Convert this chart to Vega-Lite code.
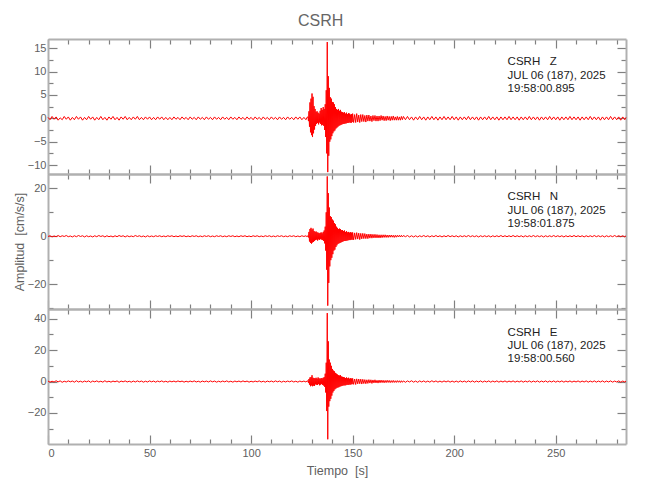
{
"$schema": "https://vega.github.io/schema/vega-lite/v6.json",
"background": "white",
"padding": {"left": 13, "top": 13, "right": 5, "bottom": 5},
"spacing": 0,
"bounds": "flush",
"title": {"text": "CSRH", "fontSize": 16, "fontWeight": "normal", "color": "#666666", "font": "Liberation Sans", "anchor": "middle", "offset": 9},
"config": {
  "view": {"stroke": null},
  "font": "Liberation Sans",
  "axis": {"grid": false, "domainColor": "#b0b0b0", "domainWidth": 2, "tickColor": "#808080", "tickWidth": 1.2, "labelColor": "#606060", "labelFont": "Liberation Sans", "labelFontSize": 11, "labelPadding": 12, "titleFont": "Liberation Sans", "titleFontSize": 12.5, "titleFontWeight": "normal", "titleColor": "#606060"}
},
"datasets": {
"w": [
{"t":0,"z":0.2,"n":-0.1,"e":0.3},{"t":1,"z":-0.3,"n":0.2,"e":-0.4},{"t":2,"z":0.4,"n":-0.3,"e":0.2},{"t":3,"z":-0.2,"n":0.1,"e":-0.3},{"t":4,"z":0.3,"n":-0.2,"e":0.5},{"t":5,"z":-0.4,"n":0.3,"e":-0.2},{"t":6,"z":0.1,"n":-0.2,"e":0.4},{"t":7,"z":-0.3,"n":0.2,"e":-0.5},{"t":8,"z":0.4,"n":-0.1,"e":0.2},{"t":9,"z":-0.2,"n":0.3,"e":-0.3},
{"t":10,"z":0.3,"n":-0.2,"e":0.4},{"t":11,"z":-0.4,"n":0.1,"e":-0.2},{"t":12,"z":0.2,"n":-0.3,"e":0.3},{"t":13,"z":-0.3,"n":0.2,"e":-0.4},{"t":14,"z":0.4,"n":-0.2,"e":0.5},{"t":15,"z":-0.2,"n":0.3,"e":-0.3},{"t":16,"z":0.3,"n":-0.1,"e":0.2},{"t":17,"z":-0.4,"n":0.2,"e":-0.4},{"t":18,"z":0.2,"n":-0.3,"e":0.3},{"t":19,"z":-0.3,"n":0.2,"e":-0.2},
{"t":20,"z":0.4,"n":-0.2,"e":0.4},{"t":21,"z":-0.2,"n":0.1,"e":-0.5},{"t":22,"z":0.3,"n":-0.3,"e":0.3},{"t":23,"z":-0.4,"n":0.2,"e":-0.2},{"t":24,"z":0.2,"n":-0.2,"e":0.4},{"t":25,"z":-0.3,"n":0.3,"e":-0.3},{"t":26,"z":0.4,"n":-0.1,"e":0.2},{"t":27,"z":-0.3,"n":0.2,"e":-0.4},{"t":28,"z":0.2,"n":-0.3,"e":0.5},{"t":29,"z":-0.4,"n":0.2,"e":-0.3},
{"t":30,"z":0.3,"n":-0.2,"e":0.2},{"t":31,"z":-0.2,"n":0.1,"e":-0.4},{"t":32,"z":0.4,"n":-0.3,"e":0.3},{"t":33,"z":-0.3,"n":0.2,"e":-0.2},{"t":34,"z":0.2,"n":-0.2,"e":0.4},{"t":35,"z":-0.4,"n":0.3,"e":-0.5},{"t":36,"z":0.3,"n":-0.1,"e":0.3},{"t":37,"z":-0.2,"n":0.2,"e":-0.2},{"t":38,"z":0.4,"n":-0.3,"e":0.4},{"t":39,"z":-0.3,"n":0.2,"e":-0.3},
{"t":40,"z":0.2,"n":-0.2,"e":0.2},{"t":41,"z":-0.3,"n":0.1,"e":-0.4},{"t":42,"z":0.3,"n":-0.2,"e":0.3},{"t":43,"z":-0.2,"n":0.3,"e":-0.3},{"t":44,"z":0.4,"n":-0.1,"e":0.4},{"t":45,"z":-0.3,"n":0.2,"e":-0.2},{"t":46,"z":0.2,"n":-0.2,"e":0.3},{"t":47,"z":-0.3,"n":0.1,"e":-0.4},{"t":48,"z":0.3,"n":-0.3,"e":0.2},{"t":49,"z":-0.2,"n":0.2,"e":-0.3},
{"t":50,"z":0.3,"n":-0.2,"e":0.4},{"t":51,"z":-0.3,"n":0.1,"e":-0.2},{"t":52,"z":0.2,"n":-0.2,"e":0.3},{"t":53,"z":-0.3,"n":0.2,"e":-0.4},{"t":54,"z":0.3,"n":-0.1,"e":0.3},{"t":55,"z":-0.2,"n":0.2,"e":-0.2},{"t":56,"z":0.3,"n":-0.2,"e":0.4},{"t":57,"z":-0.3,"n":0.1,"e":-0.3},{"t":58,"z":0.2,"n":-0.2,"e":0.2},{"t":59,"z":-0.3,"n":0.2,"e":-0.4},
{"t":60,"z":0.2,"n":-0.1,"e":0.3},{"t":61,"z":-0.3,"n":0.2,"e":-0.2},{"t":62,"z":0.3,"n":-0.2,"e":0.3},{"t":63,"z":-0.2,"n":0.1,"e":-0.3},{"t":64,"z":0.2,"n":-0.2,"e":0.4},{"t":65,"z":-0.3,"n":0.2,"e":-0.2},{"t":66,"z":0.3,"n":-0.1,"e":0.3},{"t":67,"z":-0.2,"n":0.2,"e":-0.4},{"t":68,"z":0.2,"n":-0.2,"e":0.2},{"t":69,"z":-0.3,"n":0.1,"e":-0.3},
{"t":70,"z":0.3,"n":-0.2,"e":0.3},{"t":71,"z":-0.2,"n":0.2,"e":-0.2},{"t":72,"z":0.2,"n":-0.1,"e":0.4},{"t":73,"z":-0.3,"n":0.2,"e":-0.3},{"t":74,"z":0.3,"n":-0.2,"e":0.2},{"t":75,"z":-0.2,"n":0.1,"e":-0.4},{"t":76,"z":0.2,"n":-0.2,"e":0.3},{"t":77,"z":-0.3,"n":0.2,"e":-0.2},{"t":78,"z":0.3,"n":-0.1,"e":0.3},{"t":79,"z":-0.2,"n":0.2,"e":-0.3},
{"t":80,"z":0.2,"n":-0.2,"e":0.4},{"t":81,"z":-0.3,"n":0.1,"e":-0.2},{"t":82,"z":0.3,"n":-0.2,"e":0.3},{"t":83,"z":-0.2,"n":0.2,"e":-0.4},{"t":84,"z":0.2,"n":-0.1,"e":0.2},{"t":85,"z":-0.3,"n":0.2,"e":-0.3},{"t":86,"z":0.3,"n":-0.2,"e":0.3},{"t":87,"z":-0.2,"n":0.1,"e":-0.2},{"t":88,"z":0.2,"n":-0.2,"e":0.4},{"t":89,"z":-0.3,"n":0.2,"e":-0.3},
{"t":90,"z":0.3,"n":-0.1,"e":0.2},{"t":91,"z":-0.2,"n":0.2,"e":-0.4},{"t":92,"z":0.2,"n":-0.2,"e":0.3},{"t":93,"z":-0.3,"n":0.1,"e":-0.2},{"t":94,"z":0.3,"n":-0.2,"e":0.3},{"t":95,"z":-0.2,"n":0.2,"e":-0.3},{"t":96,"z":0.2,"n":-0.1,"e":0.4},{"t":97,"z":-0.3,"n":0.2,"e":-0.2},{"t":98,"z":0.3,"n":-0.2,"e":0.3},{"t":99,"z":-0.2,"n":0.1,"e":-0.4},
{"t":100,"z":0.2,"n":-0.2,"e":0.2},{"t":101,"z":-0.3,"n":0.2,"e":-0.3},{"t":102,"z":0.3,"n":-0.1,"e":0.3},{"t":103,"z":-0.2,"n":0.2,"e":-0.2},{"t":104,"z":0.2,"n":-0.2,"e":0.4},{"t":105,"z":-0.3,"n":0.1,"e":-0.3},{"t":106,"z":0.3,"n":-0.2,"e":0.2},{"t":107,"z":-0.2,"n":0.2,"e":-0.4},{"t":108,"z":0.2,"n":-0.1,"e":0.3},{"t":109,"z":-0.3,"n":0.2,"e":-0.2},
{"t":110,"z":0.3,"n":-0.2,"e":0.3},{"t":111,"z":-0.2,"n":0.1,"e":-0.3},{"t":112,"z":0.2,"n":-0.2,"e":0.4},{"t":113,"z":-0.3,"n":0.2,"e":-0.2},{"t":114,"z":0.3,"n":-0.1,"e":0.3},{"t":115,"z":-0.2,"n":0.2,"e":-0.4},{"t":116,"z":0.2,"n":-0.2,"e":0.2},{"t":117,"z":-0.3,"n":0.1,"e":-0.3},{"t":118,"z":0.3,"n":-0.2,"e":0.3},{"t":119,"z":-0.2,"n":0.2,"e":-0.2},
{"t":120,"z":0.2,"n":-0.1,"e":0.4},{"t":121,"z":-0.3,"n":0.2,"e":-0.3},{"t":122,"z":0.3,"n":-0.2,"e":0.2},{"t":123,"z":-0.2,"n":0.1,"e":-0.4},{"t":124,"z":0.3,"n":-0.2,"e":0.3},{"t":125,"z":-0.3,"n":0.2,"e":-0.2},{"t":126,"z":0.2,"n":-0.1,"e":0.3},{"t":127,"z":-0.3,"n":0.2,"e":-0.3},
{"t":127.5,"z":0.2,"n":-0.2,"e":0.3},
{"t":128,"z":0.3,"n":0.2,"e":0.4},{"t":128.25,"z":-0.6,"n":-0.5,"e":-0.8},{"t":128.5,"z":1.5,"n":1.8,"e":1.6},{"t":128.75,"z":-1.8,"n":-2.2,"e":-2.0},
{"t":129,"z":3.4,"n":3.0,"e":2.6},{"t":129.25,"z":-3.0,"n":-2.8,"e":-3.0},{"t":129.5,"z":4.2,"n":3.5,"e":2.8},{"t":129.75,"z":-3.6,"n":-3.1,"e":-2.5},
{"t":130,"z":5.3,"n":2.8,"e":4.0},{"t":130.25,"z":-4.0,"n":-2.6,"e":-3.0},{"t":130.5,"z":4.6,"n":3.2,"e":2.4},{"t":130.75,"z":-3.2,"n":-2.4,"e":-2.6},
{"t":131,"z":2.6,"n":2.2,"e":2.2},{"t":131.25,"z":-2.4,"n":-2.0,"e":-2.8},{"t":131.5,"z":2.0,"n":1.8,"e":2.0},{"t":131.75,"z":-1.6,"n":-1.6,"e":-1.8},
{"t":132,"z":1.4,"n":2.0,"e":2.4},{"t":132.25,"z":-1.2,"n":-1.4,"e":-2.0},{"t":132.5,"z":1.5,"n":1.6,"e":1.8},{"t":132.75,"z":-1.0,"n":-1.8,"e":-2.2},
{"t":133,"z":1.2,"n":1.5,"e":2.6},{"t":133.25,"z":-1.3,"n":-1.3,"e":-1.6},{"t":133.5,"z":1.0,"n":1.2,"e":2.0},{"t":133.75,"z":-0.9,"n":-1.5,"e":-2.4},
{"t":134,"z":1.6,"n":1.4,"e":1.8},{"t":134.25,"z":-1.2,"n":-1.2,"e":-2.0},{"t":134.5,"z":2.2,"n":1.6,"e":2.2},{"t":134.75,"z":-1.5,"n":-1.4,"e":-1.6},
{"t":135,"z":1.8,"n":1.2,"e":2.0},{"t":135.25,"z":-1.4,"n":-1.6,"e":-2.2},{"t":135.5,"z":2.4,"n":1.8,"e":2.4},{"t":135.75,"z":-1.6,"n":-2.0,"e":-2.6},
{"t":136,"z":2.0,"n":2.4,"e":2.8},{"t":136.25,"z":-2.5,"n":-3.0,"e":-3.4},{"t":136.5,"z":3.0,"n":4.0,"e":5.0},{"t":136.75,"z":-4.0,"n":-6.0,"e":-7.0},
{"t":137,"z":6.0,"n":10.0,"e":12.0},{"t":137.25,"z":-7.5,"n":-14.0,"e":-18.8},{"t":137.5,"z":16.3,"n":25.0,"e":43.6},{"t":137.75,"z":-11.5,"n":-29.0,"e":-36.8},
{"t":138,"z":9.0,"n":18.0,"e":25.6},{"t":138.25,"z":-8.0,"n":-19.5,"e":-16.0},{"t":138.5,"z":6.5,"n":12.0,"e":14.0},{"t":138.75,"z":-5.0,"n":-12.6,"e":-12.5},
{"t":139,"z":4.5,"n":8.4,"e":12.0},{"t":139.25,"z":-4.5,"n":-10.0,"e":-11.0},{"t":139.5,"z":4.2,"n":8.0,"e":10.0},{"t":139.75,"z":-3.8,"n":-9.0,"e":-9.0},
{"t":140,"z":3.5,"n":7.0,"e":8.0},{"t":140.25,"z":-3.2,"n":-7.5,"e":-7.0},{"t":140.5,"z":3.4,"n":6.5,"e":7.0},{"t":140.75,"z":-2.8,"n":-6.0,"e":-6.0},
{"t":141,"z":3.0,"n":5.5,"e":6.5},{"t":141.25,"z":-2.6,"n":-5.6,"e":-5.0},{"t":141.5,"z":2.4,"n":5.0,"e":5.5},{"t":141.75,"z":-2.2,"n":-4.5,"e":-4.5},
{"t":142,"z":2.0,"n":4.0,"e":5.0},{"t":142.25,"z":-2.0,"n":-3.8,"e":-4.0},{"t":142.5,"z":1.8,"n":3.5,"e":4.5},{"t":142.75,"z":-1.8,"n":-3.2,"e":-3.8},
{"t":143,"z":2.0,"n":3.0,"e":4.0},{"t":143.25,"z":-1.6,"n":-3.0,"e":-3.6},{"t":143.5,"z":1.6,"n":3.2,"e":3.8},{"t":143.75,"z":-1.5,"n":-2.8,"e":-3.2},
{"t":144,"z":1.8,"n":3.0,"e":4.0},{"t":144.25,"z":-1.4,"n":-2.6,"e":-3.0},{"t":144.5,"z":1.4,"n":2.5,"e":3.2},{"t":144.75,"z":-1.3,"n":-2.4,"e":-2.8},
{"t":145,"z":1.3,"n":2.6,"e":3.0},{"t":145.25,"z":-1.2,"n":-2.2,"e":-2.6},{"t":145.5,"z":1.2,"n":2.2,"e":2.8},{"t":145.75,"z":-1.2,"n":-2.0,"e":-2.4},
{"t":146,"z":1.3,"n":2.4,"e":2.6},{"t":146.25,"z":-1.1,"n":-2.0,"e":-2.5},{"t":146.5,"z":1.0,"n":1.8,"e":2.2},{"t":146.75,"z":-1.1,"n":-1.9,"e":-2.3},
{"t":147,"z":1.2,"n":2.1,"e":2.6},{"t":147.25,"z":-1.0,"n":-1.8,"e":-2.0},{"t":147.5,"z":0.9,"n":1.6,"e":2.0},{"t":147.75,"z":-1.0,"n":-1.7,"e":-2.2},
{"t":148,"z":1.1,"n":1.8,"e":2.4},{"t":148.25,"z":-0.9,"n":-1.6,"e":-1.9},{"t":148.5,"z":1.0,"n":1.5,"e":1.8},{"t":148.75,"z":-0.9,"n":-1.6,"e":-2.0},
{"t":149,"z":0.8,"n":1.7,"e":2.1},{"t":149.25,"z":-1.0,"n":-1.4,"e":-1.8},{"t":149.5,"z":0.9,"n":1.5,"e":1.9},{"t":149.75,"z":-0.8,"n":-1.5,"e":-1.7},
{"t":150,"z":1.0,"n":1.6,"e":2.0},{"t":150.5,"z":-0.9,"n":-1.5,"e":-1.8},{"t":151,"z":0.8,"n":1.4,"e":1.6},{"t":151.5,"z":-0.9,"n":-1.3,"e":-1.9},{"t":152,"z":1.0,"n":1.5,"e":1.7},{"t":152.5,"z":-0.8,"n":-1.2,"e":-1.5},{"t":153,"z":0.7,"n":1.3,"e":1.6},{"t":153.5,"z":-0.9,"n":-1.4,"e":-1.4},{"t":154,"z":0.8,"n":1.2,"e":1.5},{"t":154.5,"z":-0.7,"n":-1.1,"e":-1.6},
{"t":155,"z":0.8,"n":1.2,"e":1.4},{"t":155.5,"z":-0.7,"n":-1.0,"e":-1.3},{"t":156,"z":0.6,"n":1.1,"e":1.2},{"t":156.5,"z":-0.8,"n":-1.0,"e":-1.4},{"t":157,"z":0.7,"n":0.9,"e":1.1},{"t":157.5,"z":-0.6,"n":-1.0,"e":-1.2},{"t":158,"z":0.7,"n":0.9,"e":1.2},{"t":158.5,"z":-0.6,"n":-0.8,"e":-1.0},{"t":159,"z":0.5,"n":0.9,"e":1.1},{"t":159.5,"z":-0.7,"n":-0.8,"e":-1.2},
{"t":160,"z":0.6,"n":0.8,"e":1.0},{"t":160.5,"z":-0.5,"n":-0.7,"e":-0.9},{"t":161,"z":0.6,"n":0.8,"e":1.1},{"t":161.5,"z":-0.6,"n":-0.7,"e":-0.9},{"t":162,"z":0.5,"n":0.7,"e":0.8},{"t":162.5,"z":-0.6,"n":-0.7,"e":-1.0},{"t":163,"z":0.5,"n":0.6,"e":0.9},{"t":163.5,"z":-0.5,"n":-0.7,"e":-0.8},{"t":164,"z":0.6,"n":0.6,"e":0.9},{"t":164.5,"z":-0.4,"n":-0.6,"e":-0.7},
{"t":165,"z":0.5,"n":0.6,"e":0.8},{"t":165.5,"z":-0.5,"n":-0.5,"e":-0.8},{"t":166,"z":0.4,"n":0.6,"e":0.7},{"t":166.5,"z":-0.5,"n":-0.5,"e":-0.7},{"t":167,"z":0.5,"n":0.5,"e":0.8},{"t":167.5,"z":-0.4,"n":-0.5,"e":-0.6},{"t":168,"z":0.4,"n":0.5,"e":0.7},{"t":168.5,"z":-0.5,"n":-0.4,"e":-0.7},{"t":169,"z":0.4,"n":0.5,"e":0.6},{"t":169.5,"z":-0.4,"n":-0.4,"e":-0.6},
{"t":170,"z":0.5,"n":0.4,"e":0.7},{"t":170.5,"z":-0.4,"n":-0.5,"e":-0.6},{"t":171,"z":0.3,"n":0.4,"e":0.5},{"t":171.5,"z":-0.4,"n":-0.4,"e":-0.6},{"t":172,"z":0.4,"n":0.4,"e":0.6},{"t":172.5,"z":-0.4,"n":-0.3,"e":-0.5},{"t":173,"z":0.3,"n":0.4,"e":0.5},{"t":173.5,"z":-0.4,"n":-0.3,"e":-0.6},{"t":174,"z":0.4,"n":0.4,"e":0.5},{"t":174.5,"z":-0.3,"n":-0.3,"e":-0.5},
{"t":175,"z":0.4,"n":0.3,"e":0.4},{"t":176,"z":-0.3,"n":-0.2,"e":-0.5},{"t":177,"z":0.4,"n":0.3,"e":0.4},{"t":178,"z":-0.3,"n":-0.3,"e":-0.3},{"t":179,"z":0.3,"n":0.2,"e":0.5},{"t":180,"z":-0.4,"n":-0.3,"e":-0.4},{"t":181,"z":0.3,"n":0.2,"e":0.3},{"t":182,"z":-0.3,"n":-0.3,"e":-0.5},{"t":183,"z":0.4,"n":0.2,"e":0.4},{"t":184,"z":-0.3,"n":-0.2,"e":-0.3},
{"t":185,"z":0.3,"n":0.3,"e":0.4},{"t":186,"z":-0.4,"n":-0.2,"e":-0.4},{"t":187,"z":0.3,"n":0.2,"e":0.3},{"t":188,"z":-0.3,"n":-0.3,"e":-0.4},{"t":189,"z":0.4,"n":0.2,"e":0.5},{"t":190,"z":-0.3,"n":-0.2,"e":-0.3},{"t":191,"z":0.3,"n":0.3,"e":0.4},{"t":192,"z":-0.4,"n":-0.2,"e":-0.4},{"t":193,"z":0.3,"n":0.2,"e":0.3},{"t":194,"z":-0.3,"n":-0.3,"e":-0.4},
{"t":195,"z":0.4,"n":0.2,"e":0.4},{"t":196,"z":-0.3,"n":-0.2,"e":-0.3},{"t":197,"z":0.3,"n":0.3,"e":0.4},{"t":198,"z":-0.3,"n":-0.2,"e":-0.4},{"t":199,"z":0.4,"n":0.2,"e":0.3},{"t":200,"z":-0.3,"n":-0.2,"e":-0.4},{"t":201,"z":0.3,"n":0.2,"e":0.3},{"t":202,"z":-0.4,"n":-0.3,"e":-0.4},{"t":203,"z":0.3,"n":0.2,"e":0.4},{"t":204,"z":-0.3,"n":-0.2,"e":-0.3},
{"t":205,"z":0.3,"n":0.2,"e":0.3},{"t":206,"z":-0.3,"n":-0.2,"e":-0.4},{"t":207,"z":0.4,"n":0.3,"e":0.4},{"t":208,"z":-0.3,"n":-0.2,"e":-0.3},{"t":209,"z":0.3,"n":0.2,"e":0.4},{"t":210,"z":-0.3,"n":-0.2,"e":-0.4},{"t":211,"z":0.3,"n":0.2,"e":0.3},{"t":212,"z":-0.4,"n":-0.3,"e":-0.3},{"t":213,"z":0.3,"n":0.2,"e":0.4},{"t":214,"z":-0.3,"n":-0.2,"e":-0.4},
{"t":215,"z":0.3,"n":0.2,"e":0.3},{"t":216,"z":-0.3,"n":-0.2,"e":-0.3},{"t":217,"z":0.4,"n":0.2,"e":0.4},{"t":218,"z":-0.3,"n":-0.3,"e":-0.4},{"t":219,"z":0.3,"n":0.2,"e":0.3},{"t":220,"z":-0.3,"n":-0.2,"e":-0.3},{"t":221,"z":0.3,"n":0.2,"e":0.4},{"t":222,"z":-0.4,"n":-0.2,"e":-0.4},{"t":223,"z":0.3,"n":0.3,"e":0.3},{"t":224,"z":-0.3,"n":-0.2,"e":-0.3},
{"t":225,"z":0.3,"n":0.2,"e":0.4},{"t":226,"z":-0.3,"n":-0.2,"e":-0.4},{"t":227,"z":0.4,"n":0.2,"e":0.3},{"t":228,"z":-0.3,"n":-0.2,"e":-0.3},{"t":229,"z":0.3,"n":0.3,"e":0.4},{"t":230,"z":-0.3,"n":-0.2,"e":-0.4},{"t":231,"z":0.3,"n":0.2,"e":0.3},{"t":232,"z":-0.4,"n":-0.2,"e":-0.3},{"t":233,"z":0.3,"n":0.2,"e":0.4},{"t":234,"z":-0.3,"n":-0.3,"e":-0.4},
{"t":235,"z":0.3,"n":0.2,"e":0.3},{"t":236,"z":-0.3,"n":-0.2,"e":-0.3},{"t":237,"z":0.4,"n":0.2,"e":0.4},{"t":238,"z":-0.3,"n":-0.2,"e":-0.4},{"t":239,"z":0.3,"n":0.3,"e":0.3},{"t":240,"z":-0.3,"n":-0.2,"e":-0.3},{"t":241,"z":0.3,"n":0.2,"e":0.4},{"t":242,"z":-0.4,"n":-0.2,"e":-0.4},{"t":243,"z":0.3,"n":0.2,"e":0.3},{"t":244,"z":-0.3,"n":-0.3,"e":-0.3},
{"t":245,"z":0.3,"n":0.2,"e":0.4},{"t":246,"z":-0.3,"n":-0.2,"e":-0.4},{"t":247,"z":0.4,"n":0.2,"e":0.3},{"t":248,"z":-0.3,"n":-0.2,"e":-0.3},{"t":249,"z":0.3,"n":0.3,"e":0.4},{"t":250,"z":-0.3,"n":-0.2,"e":-0.4},{"t":251,"z":0.3,"n":0.2,"e":0.3},{"t":252,"z":-0.4,"n":-0.2,"e":-0.3},{"t":253,"z":0.3,"n":0.2,"e":0.4},{"t":254,"z":-0.3,"n":-0.3,"e":-0.4},
{"t":255,"z":0.3,"n":0.2,"e":0.3},{"t":256,"z":-0.3,"n":-0.2,"e":-0.3},{"t":257,"z":0.4,"n":0.2,"e":0.4},{"t":258,"z":-0.3,"n":-0.2,"e":-0.4},{"t":259,"z":0.3,"n":0.3,"e":0.3},{"t":260,"z":-0.3,"n":-0.2,"e":-0.3},{"t":261,"z":0.3,"n":0.2,"e":0.4},{"t":262,"z":-0.4,"n":-0.2,"e":-0.4},{"t":263,"z":0.3,"n":0.2,"e":0.3},{"t":264,"z":-0.3,"n":-0.3,"e":-0.3},
{"t":265,"z":0.3,"n":0.2,"e":0.4},{"t":266,"z":-0.3,"n":-0.2,"e":-0.4},{"t":267,"z":0.4,"n":0.2,"e":0.3},{"t":268,"z":-0.3,"n":-0.2,"e":-0.3},{"t":269,"z":0.3,"n":0.3,"e":0.4},{"t":270,"z":-0.3,"n":-0.2,"e":-0.4},{"t":271,"z":0.3,"n":0.2,"e":0.3},{"t":272,"z":-0.4,"n":-0.2,"e":-0.3},{"t":273,"z":0.3,"n":0.2,"e":0.4},{"t":274,"z":-0.3,"n":-0.3,"e":-0.4},
{"t":275,"z":0.3,"n":0.2,"e":0.3},{"t":276,"z":-0.3,"n":-0.2,"e":-0.3},{"t":277,"z":0.4,"n":0.2,"e":0.4},{"t":278,"z":-0.3,"n":-0.2,"e":-0.4},{"t":279,"z":0.3,"n":0.3,"e":0.3},{"t":280,"z":-0.3,"n":-0.2,"e":-0.3},{"t":281,"z":0.3,"n":0.2,"e":0.4},{"t":282,"z":-0.4,"n":-0.2,"e":-0.4},{"t":283,"z":0.3,"n":0.2,"e":0.3},{"t":284,"z":-0.3,"n":-0.3,"e":-0.3},{"t":284.6,"z":0.2,"n":0.2,"e":0.3}
]
},
"vconcat": [
{
 "width": 578, "height": 135,
 "layer": [
  {"data": {"name": "w"}, "mark": {"type": "line", "color": "#ff0000", "strokeWidth": 1, "clip": false},
   "encoding": {
    "x": {"field": "t", "type": "quantitative", "scale": {"domain": [0, 284.6], "nice": false, "zero": false},
      "axis": {"orient": "bottom", "values": [0,10,20,30,40,50,60,70,80,90,100,110,120,130,140,150,160,170,180,190,200,210,220,230,240,250,260,270,280], "labels": false, "title": null, "tickSize": {"condition": {"test": "datum.value % 50 === 0", "value": -9}, "value": -5}}},
    "y": {"field": "z", "type": "quantitative", "scale": {"domain": [-11.9, 16.95], "nice": false, "zero": false},
      "axis": {"orient": "left", "values": [-10,-7.5,-5,-2.5,0,2.5,5,7.5,10,12.5,15], "labelExpr": "datum.value % 5 === 0 ? datum.label : ''", "title": null, "labelPadding": 11, "tickSize": {"condition": {"test": "datum.value % 5 === 0", "value": -9}, "value": -5}}}
   }},
  {"data": {"values": [{"t": 226.3, "v": 11.93, "label": "CSRH\u00a0\u00a0\u00a0Z"}, {"t": 226.3, "v": 9.04, "label": "JUL 06 (187), 2025"}, {"t": 226.3, "v": 6.26, "label": "19:58:00.895"}]},
   "mark": {"type": "text", "align": "left", "baseline": "middle", "fontSize": 11.5, "color": "#222222", "font": "Liberation Sans"},
   "encoding": {
    "x": {"field": "t", "type": "quantitative", "axis": {"orient": "top", "values": [0,10,20,30,40,50,60,70,80,90,100,110,120,130,140,150,160,170,180,190,200,210,220,230,240,250,260,270,280], "labels": false, "title": null, "tickSize": {"condition": {"test": "datum.value % 50 === 0", "value": -9}, "value": -5}}},
    "y": {"field": "v", "type": "quantitative", "axis": {"orient": "right", "values": [-10,-7.5,-5,-2.5,0,2.5,5,7.5,10,12.5,15], "labels": false, "title": null, "tickSize": {"condition": {"test": "datum.value % 5 === 0", "value": -9}, "value": -5}}},
    "text": {"field": "label", "type": "nominal"}
   }}
 ],
 "resolve": {"axis": {"x": "independent", "y": "independent"}}
},
{
 "width": 578, "height": 135,
 "layer": [
  {"data": {"name": "w"}, "mark": {"type": "line", "color": "#ff0000", "strokeWidth": 1, "clip": false},
   "encoding": {
    "x": {"field": "t", "type": "quantitative", "scale": {"domain": [0, 284.6], "nice": false, "zero": false},
      "axis": {"orient": "bottom", "values": [0,10,20,30,40,50,60,70,80,90,100,110,120,130,140,150,160,170,180,190,200,210,220,230,240,250,260,270,280], "labels": false, "title": null, "tickSize": {"condition": {"test": "datum.value % 50 === 0", "value": -9}, "value": -5}}},
    "y": {"field": "n", "type": "quantitative", "scale": {"domain": [-30.4, 26], "nice": false, "zero": false},
      "axis": {"orient": "left", "values": [-30,-20,-10,0,10,20], "labelExpr": "datum.value % 20 === 0 ? datum.label : ''", "title": "Amplitud\u00a0\u00a0[cm/s/s]", "titlePadding": 1, "labelPadding": 11, "tickSize": {"condition": {"test": "datum.value % 20 === 0", "value": -9}, "value": -5}}}
   }},
  {"data": {"values": [{"t": 226.3, "v": 16.36, "label": "CSRH\u00a0\u00a0\u00a0N"}, {"t": 226.3, "v": 10.71, "label": "JUL 06 (187), 2025"}, {"t": 226.3, "v": 5.26, "label": "19:58:01.875"}]},
   "mark": {"type": "text", "align": "left", "baseline": "middle", "fontSize": 11.5, "color": "#222222", "font": "Liberation Sans"},
   "encoding": {
    "x": {"field": "t", "type": "quantitative", "axis": {"orient": "top", "values": [0,10,20,30,40,50,60,70,80,90,100,110,120,130,140,150,160,170,180,190,200,210,220,230,240,250,260,270,280], "labels": false, "title": null, "tickSize": {"condition": {"test": "datum.value % 50 === 0", "value": -9}, "value": -5}}},
    "y": {"field": "v", "type": "quantitative", "axis": {"orient": "right", "values": [-30,-20,-10,0,10,20], "labels": false, "title": null, "tickSize": {"condition": {"test": "datum.value % 20 === 0", "value": -9}, "value": -5}}},
    "text": {"field": "label", "type": "nominal"}
   }}
 ],
 "resolve": {"axis": {"x": "independent", "y": "independent"}}
},
{
 "width": 578, "height": 135,
 "layer": [
  {"data": {"name": "w"}, "mark": {"type": "line", "color": "#ff0000", "strokeWidth": 1, "clip": false},
   "encoding": {
    "x": {"field": "t", "type": "quantitative", "scale": {"domain": [0, 284.6], "nice": false, "zero": false},
      "axis": {"orient": "bottom", "values": [0,10,20,30,40,50,60,70,80,90,100,110,120,130,140,150,160,170,180,190,200,210,220,230,240,250,260,270,280], "labelExpr": "datum.value % 50 === 0 ? datum.label : ''", "title": "Tiempo\u00a0\u00a0[s]", "titlePadding": 6, "tickSize": {"condition": {"test": "datum.value % 50 === 0", "value": -9}, "value": -5}}},
    "y": {"field": "e", "type": "quantitative", "scale": {"domain": [-39.8, 46.2], "nice": false, "zero": false},
      "axis": {"orient": "left", "values": [-30,-20,-10,0,10,20,30,40], "labelExpr": "datum.value % 20 === 0 ? datum.label : ''", "title": null, "labelPadding": 11, "tickSize": {"condition": {"test": "datum.value % 20 === 0", "value": -9}, "value": -5}}}
   }},
  {"data": {"values": [{"t": 226.3, "v": 30.9, "label": "CSRH\u00a0\u00a0\u00a0E"}, {"t": 226.3, "v": 22.35, "label": "JUL 06 (187), 2025"}, {"t": 226.3, "v": 14.1, "label": "19:58:00.560"}]},
   "mark": {"type": "text", "align": "left", "baseline": "middle", "fontSize": 11.5, "color": "#222222", "font": "Liberation Sans"},
   "encoding": {
    "x": {"field": "t", "type": "quantitative", "axis": {"orient": "top", "values": [0,10,20,30,40,50,60,70,80,90,100,110,120,130,140,150,160,170,180,190,200,210,220,230,240,250,260,270,280], "labels": false, "title": null, "tickSize": {"condition": {"test": "datum.value % 50 === 0", "value": -9}, "value": -5}}},
    "y": {"field": "v", "type": "quantitative", "axis": {"orient": "right", "values": [-30,-20,-10,0,10,20,30,40], "labels": false, "title": null, "tickSize": {"condition": {"test": "datum.value % 20 === 0", "value": -9}, "value": -5}}},
    "text": {"field": "label", "type": "nominal"}
   }}
 ],
 "resolve": {"axis": {"x": "independent", "y": "independent"}}
}
]
}
